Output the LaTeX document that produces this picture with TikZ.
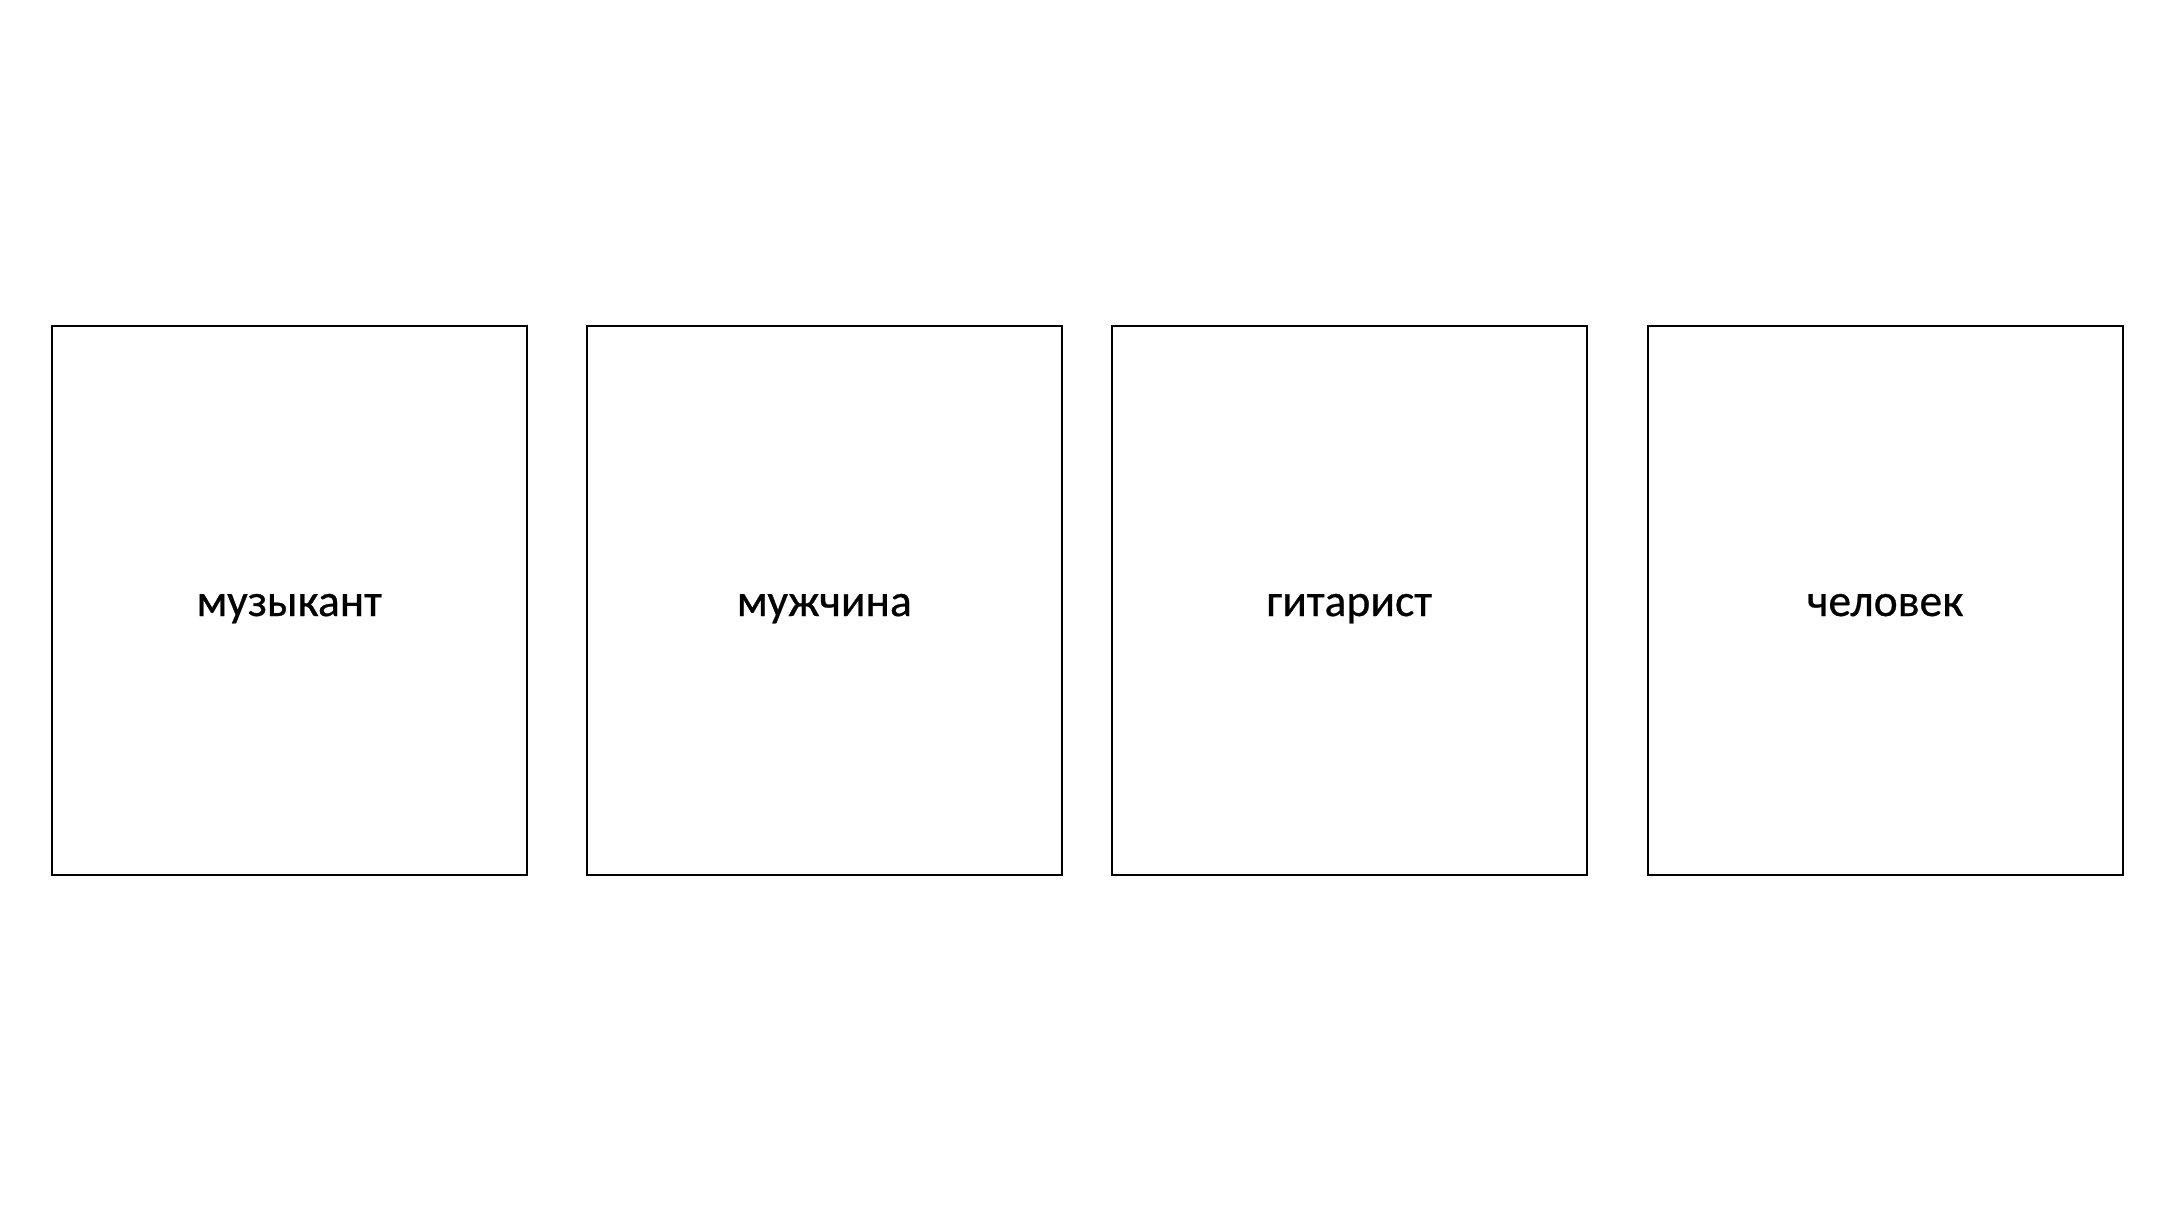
\documentclass[tikz,border=0pt]{standalone}
\usepackage{fontspec}
\setmainfont[FakeBold=0.6]{Carlito}
\begin{document}
\begin{tikzpicture}[x=0.5pt,y=-0.5pt,
  card/.style={draw=black,line width=1pt,minimum width=237.5pt,minimum height=274.8pt,inner sep=0pt,outer sep=0pt,text height=20pt,text depth=4.5pt,font=\fontsize{22.8}{27}\selectfont}]
\useasboundingbox (0,0) rectangle (2176,1216);
\node[card] (a) at (289.2,600.5) {музыкант};
\node[card] (b) at (824.3,600.5) {мужчина};
\node[card] (c) at (1349.2,600.5) {гитарист};
\node[card] (d) at (1885.2,600.5) {человек};
\end{tikzpicture}
\end{document}
